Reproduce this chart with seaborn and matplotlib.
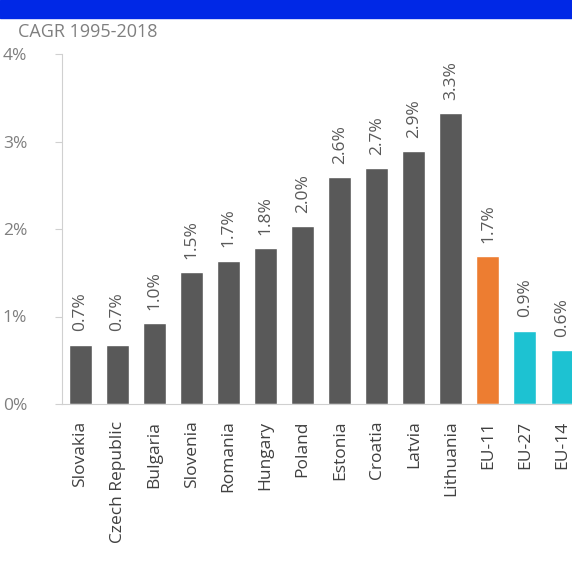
import matplotlib
matplotlib.use("Agg")
import matplotlib.pyplot as plt
import seaborn as sns
import pandas as pd
from matplotlib.patches import Rectangle

countries = ['Slovakia', 'Czech Republic', 'Bulgaria', 'Slovenia', 'Romania',
             'Hungary', 'Poland', 'Estonia', 'Croatia', 'Latvia', 'Lithuania',
             'EU-11', 'EU-27', 'EU-14']
cagr = [0.68, 0.68, 0.93, 1.51, 1.64, 1.78, 2.03, 2.59, 2.70, 2.89, 3.33,
        1.69, 0.84, 0.62]
labels = ['0.7%', '0.7%', '1.0%', '1.5%', '1.7%', '1.8%', '2.0%', '2.6%',
          '2.7%', '2.9%', '3.3%', '1.7%', '0.9%', '0.6%']
yticks = [0, 1, 2, 3, 4]
ytick_labels = ['0%', '1%', '2%', '3%', '4%']

df = pd.DataFrame({'country': countries, 'cagr': cagr})

gray = '#595959'
orange = '#ED7D31'
cyan = '#1DC2D2'
colors = [gray] * 11 + [orange, cyan, cyan]

sns.set_theme(style="white")
plt.rcParams['font.family'] = ['Open Sans', 'DejaVu Sans']

fig = plt.figure(figsize=(5.72, 5.66), dpi=100)
ax = fig.add_axes([0.1084, 1 - 404 / 566, 1 - 0.1084, 350 / 566])

sns.barplot(data=df, x='country', y='cagr', hue='country', palette=colors,
            legend=False, width=0.62, saturation=1, ax=ax)

# rótulos de valor acima das barras
for i, (v, lab) in enumerate(zip(cagr, labels)):
    ax.text(i, v + 0.15, lab, rotation=90, ha='center', va='bottom',
            fontsize=12.5, color=gray)

ax.set_xlim(-0.5, 13.27)
ax.set_ylim(0, 4)
ax.set_yticks(yticks)
ax.set_yticklabels(ytick_labels)
ax.set_xlabel('')
ax.set_ylabel('')
ax.tick_params(axis='x', rotation=90, labelsize=12.5, labelcolor='#404040',
               length=0, pad=12)
ax.tick_params(axis='y', labelsize=12.5, labelcolor='#7f7f7f', length=5,
               width=0.8, color='#d0d0d0', left=True, pad=20)
for s in ['top', 'right']:
    ax.spines[s].set_visible(False)
ax.spines['left'].set_color('#d0d0d0')
ax.spines['bottom'].set_color('#d0d0d0')
ax.spines['left'].set_linewidth(0.8)
ax.spines['bottom'].set_linewidth(0.8)

fig.text(18 / 572, 1 - 32 / 566, 'CAGR 1995-2018', fontsize=13,
         color='#7f7f7f', ha='left', va='center')

# faixa azul no topo
fig.patches.append(Rectangle((0, 1 - 18 / 566), 1, 18 / 566,
                             transform=fig.transFigure, color='#0028E6',
                             zorder=0))

fig.savefig('out.png', dpi=100)
